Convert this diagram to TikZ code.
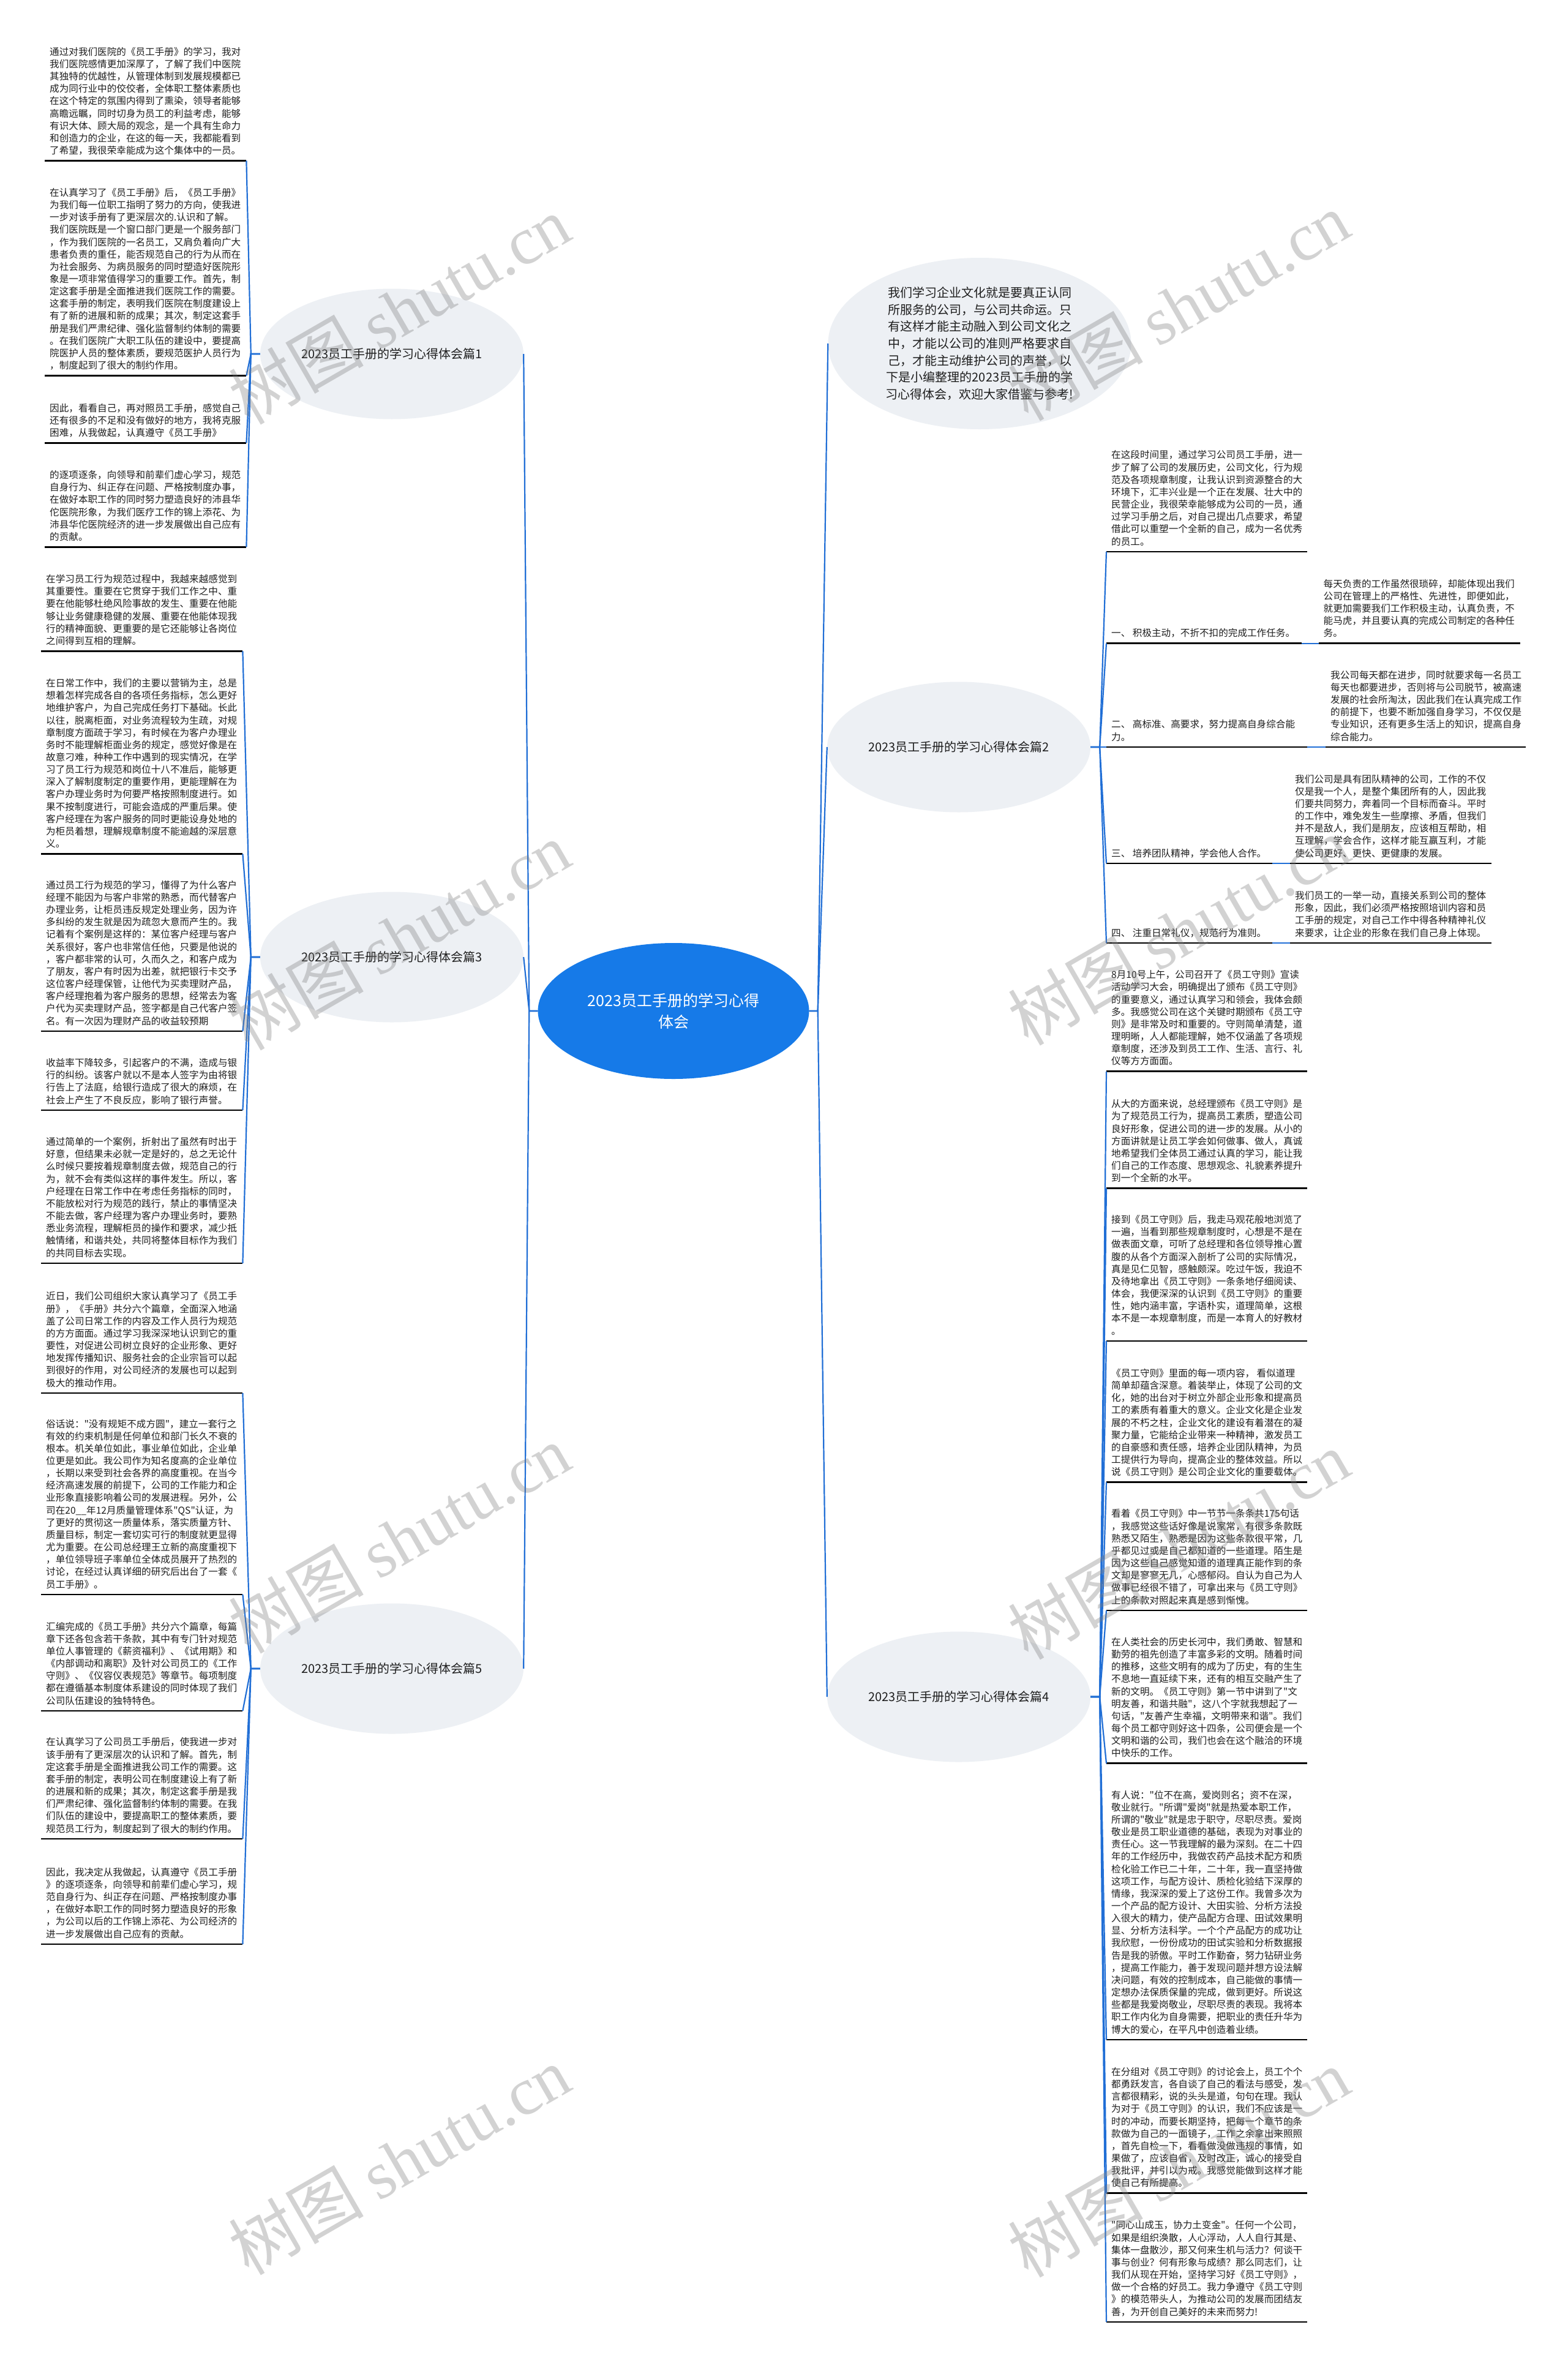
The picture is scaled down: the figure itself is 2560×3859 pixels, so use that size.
\documentclass[tikz,border=0pt]{standalone}
\usepackage{fontspec}
\newfontfamily\cjk{Noto Sans CJK SC}
\newfontfamily\wmserif{Liberation Serif}
\usetikzlibrary{shapes.geometric}
\definecolor{lineblue}{RGB}{33,111,214}
\definecolor{rootblue}{RGB}{22,122,232}
\definecolor{topicgray}{RGB}{237,240,244}
\definecolor{txt}{RGB}{30,30,30}
\newcommand\bt{\cjk\fontsize{15.6}{20.15}\selectfont}
\newcommand\pb[2]{\parbox[b]{#1pt}{\raggedright #2}}
\tikzset{
 tb/.style={anchor=south west, inner xsep=8pt, inner ysep=10.8pt, text depth=0pt, font=\bt, text=txt},
 uline/.style={draw=black, line width=2.8pt},
 conn/.style={draw=lineblue, line width=2.2pt},
 topic/.style={ellipse, fill=topicgray, minimum width=430pt, minimum height=213pt, inner sep=0pt, font=\cjk\fontsize{20}{24}\selectfont, text=txt},
 rootnode/.style={ellipse, fill=rootblue, minimum width=443pt, minimum height=222pt, inner sep=0pt, align=center, text=white, font=\cjk\fontsize{25}{35}\selectfont},
 intronode/.style={ellipse, fill=topicgray, minimum width=495pt, minimum height=280pt, inner sep=0pt, align=center, text=txt, font=\cjk\fontsize{20}{27.6}\selectfont},
 wm/.style={rotate=30, text=gray, opacity=0.35, font=\cjk\fontsize{110}{110}\selectfont, inner sep=0pt}
}
\begin{document}
\begin{tikzpicture}[x=1pt,y=-1pt]
\useasboundingbox (0,0) rectangle (2560,3859);
\fill[white] (0,0) rectangle (2560,3859);

% ---------- central and topic nodes ----------
\node[rootnode] (root) at (1100,1651) {2023员工手册的学习心得\\体会};
\node[topic] (t1) at (640,578) {2023员工手册的学习心得体会篇1};
\node[topic] (t3) at (640,1563) {2023员工手册的学习心得体会篇3};
\node[topic] (t5) at (640,2725) {2023员工手册的学习心得体会篇5};
\node[topic] (t2) at (1566,1220) {2023员工手册的学习心得体会篇2};
\node[topic] (t4) at (1566,2771) {2023员工手册的学习心得体会篇4};
\node[intronode] (intro) at (1600,561) {我们学习企业文化就是要真正认同\\所服务的公司，与公司共命运。只\\有这样才能主动融入到公司文化之\\中，才能以公司的准则严格要求自\\己，才能主动维护公司的声誉，以\\下是小编整理的2023员工手册的学\\习心得体会，欢迎大家借鉴与参考!};

% ---------- topic 1 blocks ----------
\node[tb] (a1) at (73,262.5) {\pb{313}{通过对我们医院的《员工手册》的学习，我对\\我们医院感情更加深厚了，了解了我们中医院\\其独特的优越性，从管理体制到发展规模都已\\成为同行业中的佼佼者，全体职工整体素质也\\在这个特定的氛围内得到了熏染，领导者能够\\高瞻远瞩，同时切身为员工的利益考虑，能够\\有识大体、顾大局的观念，是一个具有生命力\\和创造力的企业，在这的每一天，我都能看到\\了希望，我很荣幸能成为这个集体中的一员。}};
\node[tb] (a2) at (73,613.5) {\pb{313}{在认真学习了《员工手册》后，《员工手册》\\为我们每一位职工指明了努力的方向，使我进\\一步对该手册有了更深层次的.认识和了解。\\我们医院既是一个窗口部门更是一个服务部门\\，作为我们医院的一名员工，又肩负着向广大\\患者负责的重任，能否规范自己的行为从而在\\为社会服务、为病员服务的同时塑造好医院形\\象是一项非常值得学习的重要工作。首先，制\\定这套手册是全面推进我们医院工作的需要。\\这套手册的制定，表明我们医院在制度建设上\\有了新的进展和新的成果；其次，制定这套手\\册是我们严肃纪律、强化监督制约体制的需要\\。在我们医院广大职工队伍的建设中，要提高\\院医护人员的整体素质，要规范医护人员行为\\，制度起到了很大的制约作用。}};
\node[tb] (a3) at (73,723.3) {\pb{313}{因此，看看自己，再对照员工手册，感觉自己\\还有很多的不足和没有做好的地方，我将克服\\困难，从我做起，认真遵守《员工手册》}};
\node[tb] (a4) at (73,893.3) {\pb{313}{的逐项逐条，向领导和前辈们虚心学习，规范\\自身行为、纠正存在问题、严格按制度办事，\\在做好本职工作的同时努力塑造良好的沛县华\\佗医院形象，为我们医疗工作的锦上添花、为\\沛县华佗医院经济的进一步发展做出自己应有\\的贡献。}};

% ---------- topic 3 blocks ----------
\node[tb] (b1) at (67,1063.3) {\pb{313}{在学习员工行为规范过程中，我越来越感觉到\\其重要性。重要在它贯穿于我们工作之中、重\\要在他能够杜绝风险事故的发生、重要在他能\\够让业务健康稳健的发展、重要在他能体现我\\行的精神面貌、更重要的是它还能够让各岗位\\之间得到互相的理解。}};
\node[tb] (b2) at (67,1394.5) {\pb{313}{在日常工作中，我们的主要以营销为主，总是\\想着怎样完成各自的各项任务指标，怎么更好\\地维护客户，为自己完成任务打下基础。长此\\以往，脱离柜面，对业务流程较为生疏，对规\\章制度方面疏于学习，有时候在为客户办理业\\务时不能理解柜面业务的规定，感觉好像是在\\故意刁难，种种工作中遇到的现实情况，在学\\习了员工行为规范和岗位十八不准后，能够更\\深入了解制度制定的重要作用，更能理解在为\\客户办理业务时为何要严格按照制度进行。如\\果不按制度进行，可能会造成的严重后果。使\\客户经理在为客户服务的同时更能设身处地的\\为柜员着想，理解规章制度不能逾越的深层意\\义。}};
\node[tb] (b3) at (67,1684) {\pb{313}{通过员工行为规范的学习，懂得了为什么客户\\经理不能因为与客户非常的熟悉，而代替客户\\办理业务，让柜员违反规定处理业务，因为许\\多纠纷的发生就是因为疏忽大意而产生的。我\\记着有个案例是这样的：某位客户经理与客户\\关系很好，客户也非常信任他，只要是他说的\\，客户都非常的认可，久而久之，和客户成为\\了朋友，客户有时因为出差，就把银行卡交予\\这位客户经理保管，让他代为买卖理财产品，\\客户经理抱着为客户服务的思想，经常去为客\\户代为买卖理财产品，签字都是自己代客户签\\名。有一次因为理财产品的收益较预期}};
\node[tb] (b4) at (67,1813) {\pb{313}{收益率下降较多，引起客户的不满，造成与银\\行的纠纷。该客户就以不是本人签字为由将银\\行告上了法庭，给银行造成了很大的麻烦，在\\社会上产生了不良反应，影响了银行声誉。}};
\node[tb] (b5) at (67,2063) {\pb{313}{通过简单的一个案例，折射出了虽然有时出于\\好意，但结果未必就一定是好的，总之无论什\\么时候只要按着规章制度去做，规范自己的行\\为，就不会有类似这样的事件发生。所以，客\\户经理在日常工作中在考虑任务指标的同时，\\不能放松对行为规范的践行，禁止的事情坚决\\不能去做，客户经理为客户办理业务时，要熟\\悉业务流程，理解柜员的操作和要求，减少抵\\触情绪，和谐共处，共同将整体目标作为我们\\的共同目标去实现。}};

% ---------- topic 5 blocks ----------
\node[tb] (c1) at (67,2275) {\pb{313}{近日，我们公司组织大家认真学习了《员工手\\册》，《手册》共分六个篇章，全面深入地涵\\盖了公司日常工作的内容及工作人员行为规范\\的方方面面。通过学习我深深地认识到它的重\\要性，对促进公司树立良好的企业形象、更好\\地发挥传播知识、服务社会的企业宗旨可以起\\到很好的作用，对公司经济的发展也可以起到\\极大的推动作用。}};
\node[tb] (c2) at (67,2604) {\pb{313}{俗话说："没有规矩不成方圆"，建立一套行之\\有效的约束机制是任何单位和部门长久不衰的\\根本。机关单位如此，事业单位如此，企业单\\位更是如此。我公司作为知名度高的企业单位\\，长期以来受到社会各界的高度重视。在当今\\经济高速发展的前提下，公司的工作能力和企\\业形象直接影响着公司的发展进程。另外，公\\司在20\_\_年12月质量管理体系"QS"认证，为\\了更好的贯彻这一质量体系，落实质量方针、\\质量目标，制定一套切实可行的制度就更显得\\尤为重要。在公司总经理王立新的高度重视下\\，单位领导班子率单位全体成员展开了热烈的\\讨论，在经过认真详细的研究后出台了一套《\\员工手册》。}};
\node[tb] (c3) at (67,2794) {\pb{313}{汇编完成的《员工手册》共分六个篇章，每篇\\章下还各包含若干条款，其中有专门针对规范\\单位人事管理的《薪资福利》、《试用期》和\\《内部调动和离职》及针对公司员工的《工作\\守则》、《仪容仪表规范》等章节。每项制度\\都在遵循基本制度体系建设的同时体现了我们\\公司队伍建设的独特特色。}};
\node[tb] (c4) at (67,3003) {\pb{313}{在认真学习了公司员工手册后，使我进一步对\\该手册有了更深层次的认识和了解。首先，制\\定这套手册是全面推进我公司工作的需要。这\\套手册的制定，表明公司在制度建设上有了新\\的进展和新的成果；其次，制定这套手册是我\\们严肃纪律、强化监督制约体制的需要。在我\\们队伍的建设中，要提高职工的整体素质，要\\规范员工行为，制度起到了很大的制约作用。}};
\node[tb] (c5) at (67,3175) {\pb{313}{因此，我决定从我做起，认真遵守《员工手册\\》的逐项逐条，向领导和前辈们虚心学习，规\\范自身行为、纠正存在问题、严格按制度办事\\，在做好本职工作的同时努力塑造良好的形象\\，为公司以后的工作锦上添花、为公司经济的\\进一步发展做出自己应有的贡献。}};

% ---------- topic 2 blocks ----------
\node[tb] (d0) at (1807,901) {\pb{312}{在这段时间里，通过学习公司员工手册，进一\\步了解了公司的发展历史，公司文化，行为规\\范及各项规章制度，让我认识到资源整合的大\\环境下，汇丰兴业是一个正在发展、壮大中的\\民营企业，我很荣幸能够成为公司的一员，通\\过学习手册之后，对自己提出几点要求，希望\\借此可以重塑一个全新的自己，成为一名优秀\\的员工。}};
\node[tb] (d1) at (1807,1050.7) {\pb{303}{一、 积极主动，不折不扣的完成工作任务。}};
\node[tb] (e1) at (2153.5,1050.7) {\pb{313.5}{每天负责的工作虽然很琐碎，却能体现出我们\\公司在管理上的严格性、先进性，即便如此，\\就更加需要我们工作积极主动，认真负责，不\\能马虎，并且要认真的完成公司制定的各种任\\务。}};
\node[tb] (d2) at (1807,1220) {\pb{312}{二、 高标准、高要求，努力提高自身综合能\\力。}};
\node[tb] (e2) at (2165,1220) {\pb{311}{我公司每天都在进步，同时就要求每一名员工\\每天也都要进步，否则将与公司脱节，被高速\\发展的社会所淘汰，因此我们在认真完成工作\\的前提下，也要不断加强自身学习，不仅仅是\\专业知识，还有更多生活上的知识，提高自身\\综合能力。}};
\node[tb] (d3) at (1807,1410) {\pb{255}{三、 培养团队精神，学会他人合作。}};
\node[tb] (e3) at (2107,1410) {\pb{313}{我们公司是具有团队精神的公司，工作的不仅\\仅是我一个人，是整个集团所有的人，因此我\\们要共同努力，奔着同一个目标而奋斗。平时\\的工作中，难免发生一些摩擦、矛盾，但我们\\并不是敌人，我们是朋友，应该相互帮助，相\\互理解，学会合作，这样才能互赢互利，才能\\使公司更好、更快、更健康的发展。}};
\node[tb] (d4) at (1807,1540) {\pb{255}{四、 注重日常礼仪，规范行为准则。}};
\node[tb] (e4) at (2107,1540) {\pb{313}{我们员工的一举一动，直接关系到公司的整体\\形象，因此，我们必须严格按照培训内容和员\\工手册的规定，对自己工作中得各种精神礼仪\\来要求，让企业的形象在我们自己身上体现。}};

% ---------- topic 4 blocks ----------
\node[tb] (f1) at (1807,1749.8) {\pb{312}{8月10号上午，公司召开了《员工守则》宣读\\活动学习大会，明确提出了颁布《员工守则》\\的重要意义，通过认真学习和领会，我体会颇\\多。我感觉公司在这个关键时期颁布《员工守\\则》是非常及时和重要的。守则简单清楚，道\\理明晰，人人都能理解，她不仅涵盖了各项规\\章制度，还涉及到员工工作、生活、言行、礼\\仪等方方面面。}};
\node[tb] (f2) at (1807,1940.6) {\pb{312}{从大的方面来说，总经理颁布《员工守则》是\\为了规范员工行为，提高员工素质，塑造公司\\良好形象，促进公司的进一步的发展。从小的\\方面讲就是让员工学会如何做事、做人，真诚\\地希望我们全体员工通过认真的学习，能让我\\们自己的工作态度、思想观念、礼貌素养提升\\到一个全新的水平。}};
\node[tb] (f3) at (1807,2190) {\pb{312}{接到《员工守则》后，我走马观花般地浏览了\\一遍，当看到那些规章制度时，心想是不是在\\做表面文章，可听了总经理和各位领导推心置\\腹的从各个方面深入剖析了公司的实际情况，\\真是见仁见智，感触颇深。吃过午饭，我迫不\\及待地拿出《员工守则》一条条地仔细阅读、\\体会，我便深深的认识到《员工守则》的重要\\性，她内涵丰富，字语朴实，道理简单，这根\\本不是一本规章制度，而是一本育人的好教材\\。}};
\node[tb] (f4) at (1807,2420.7) {\pb{312}{《员工守则》里面的每一项内容， 看似道理\\简单却蕴含深意。着装举止，体现了公司的文\\化，她的出台对于树立外部企业形象和提高员\\工的素质有着重大的意义。企业文化是企业发\\展的不朽之柱，企业文化的建设有着潜在的凝\\聚力量，它能给企业带来一种精神，激发员工\\的自豪感和责任感，培养企业团队精神，为员\\工提供行为导向，提高企业的整体效益。所以\\说《员工守则》是公司企业文化的重要载体。}};
\node[tb] (f5) at (1807,2630) {\pb{312}{看着《员工守则》中一节节一条条共175句话\\，我感觉这些话好像是说家常，有很多条款既\\熟悉又陌生，熟悉是因为这些条款很平常，几\\乎都见过或是自己都知道的一些道理。陌生是\\因为这些自己感觉知道的道理真正能作到的条\\文却是寥寥无几，心感郁闷。自认为自己为人\\做事已经很不错了，可拿出来与《员工守则》\\上的条款对照起来真是感到惭愧。}};
\node[tb] (f6) at (1807,2879.8) {\pb{312}{在人类社会的历史长河中，我们勇敢、智慧和\\勤劳的祖先创造了丰富多彩的文明。随着时间\\的推移，这些文明有的成为了历史，有的生生\\不息地一直延续下来，还有的相互交融产生了\\新的文明。《员工守则》第一节中讲到了"文\\明友善，和谐共融"，这八个字就我想起了一\\句话，"友善产生幸福，文明带来和谐"。我们\\每个员工都守则好这十四条，公司便会是一个\\文明和谐的公司，我们也会在这个融洽的环境\\中快乐的工作。}};
\node[tb] (f7) at (1807,3331) {\pb{312}{有人说："位不在高，爱岗则名；资不在深，\\敬业就行。"所谓"爱岗"就是热爱本职工作，\\所谓的"敬业"就是忠于职守，尽职尽责。爱岗\\敬业是员工职业道德的基础，表现为对事业的\\责任心。这一节我理解的最为深刻。在二十四\\年的工作经历中，我做农药产品技术配方和质\\检化验工作已二十年，二十年，我一直坚持做\\这项工作，与配方设计、质检化验结下深厚的\\情缘，我深深的爱上了这份工作。我曾多次为\\一个产品的配方设计、大田实验、分析方法投\\入很大的精力，使产品配方合理、田试效果明\\显、分析方法科学。一个个产品配方的成功让\\我欣慰，一份份成功的田试实验和分析数据报\\告是我的骄傲。平时工作勤奋，努力钻研业务\\，提高工作能力，善于发现问题并想方设法解\\决问题，有效的控制成本，自己能做的事情一\\定想办法保质保量的完成，做到更好。所说这\\些都是我爱岗敬业，尽职尽责的表现。我将本\\职工作内化为自身需要，把职业的责任升华为\\博大的爱心，在平凡中创造着业绩。}};
\node[tb] (f8) at (1807,3581.8) {\pb{312}{在分组对《员工守则》的讨论会上，员工个个\\都勇跃发言，各自谈了自己的看法与感受，发\\言都很精彩，说的头头是道，句句在理。我认\\为对于《员工守则》的认识，我们不应该是一\\时的冲动，而要长期坚持，把每一个章节的条\\款做为自己的一面镜子，工作之余拿出来照照\\，首先自检一下，看看做没做违规的事情，如\\果做了，应该自省，及时改正，诚心的接受自\\我批评，并引以为戒。我感觉能做到这样才能\\使自己有所提高。}};
\node[tb] (f9) at (1807,3792) {\pb{312}{"同心山成玉，协力土变金"。任何一个公司，\\如果是组织涣散，人心浮动，人人自行其是、\\集体一盘散沙，那又何来生机与活力？何谈干\\事与创业？何有形象与成绩？那么同志们，让\\我们从现在开始，坚持学习好《员工守则》，\\做一个合格的好员工。我力争遵守《员工守则\\》的模范带头人，为推动公司的发展而团结友\\善，为开创自己美好的未来而努力!}};

% ---------- underlines ----------
\foreach \n in {a1,a2,a3,a4,b1,b2,b3,b4,b5,c1,c2,c3,c4,c5,d0,d1,d2,d3,d4,e1,e2,e3,e4,f1,f2,f3,f4,f5,f6,f7,f8,f9}
  \draw[uline] (\n.south west) -- (\n.south east);

% ---------- connectors ----------
\foreach \t in {t1,t3,t5} \draw[conn] (root.west) -- ++(-14,0) -- (\t.east);
\foreach \t in {intro,t2,t4} \draw[conn] (root.east) -- ++(14,0) -- (\t.west);
\foreach \n in {a1,a2,a3,a4} \draw[conn] (t1.west) -- ++(-15,0) -- (\n.south east);
\foreach \n in {b1,b2,b3,b4,b5} \draw[conn] (t3.west) -- ++(-15,0) -- (\n.south east);
\foreach \n in {c1,c2,c3,c4,c5} \draw[conn] (t5.west) -- ++(-15,0) -- (\n.south east);
\foreach \n in {d0,d1,d2,d3,d4} \draw[conn] (t2.east) -- ++(15,0) -- (\n.south west);
\foreach \n in {f1,f2,f3,f4,f5,f6,f7,f8,f9} \draw[conn] (t4.east) -- ++(15,0) -- (\n.south west);
\draw[conn] (d1.south east) -- (e1.south west);
\draw[conn] (d2.south east) -- (e2.south west);
\draw[conn] (d3.south east) -- (e3.south west);
\draw[conn] (d4.south east) -- (e4.south west);

% ---------- watermarks ----------
\node[wm] (w1) at (652,506) {树图 {\wmserif shutu.cn}};
\node[wm] (w2) at (1925,500) {树图 {\wmserif shutu.cn}};
\node[wm] (w3) at (652,1528) {树图 {\wmserif shutu.cn}};
\node[wm] (w4) at (1925,1520) {树图 {\wmserif shutu.cn}};
\node[wm] (w5) at (652,2513) {树图 {\wmserif shutu.cn}};
\node[wm] (w6) at (1925,2523) {树图 {\wmserif shutu.cn}};
\node[wm] (w7) at (652,3528) {树图 {\wmserif shutu.cn}};
\node[wm] (w8) at (1925,3532) {树图 {\wmserif shutu.cn}};
\end{tikzpicture}
\end{document}
